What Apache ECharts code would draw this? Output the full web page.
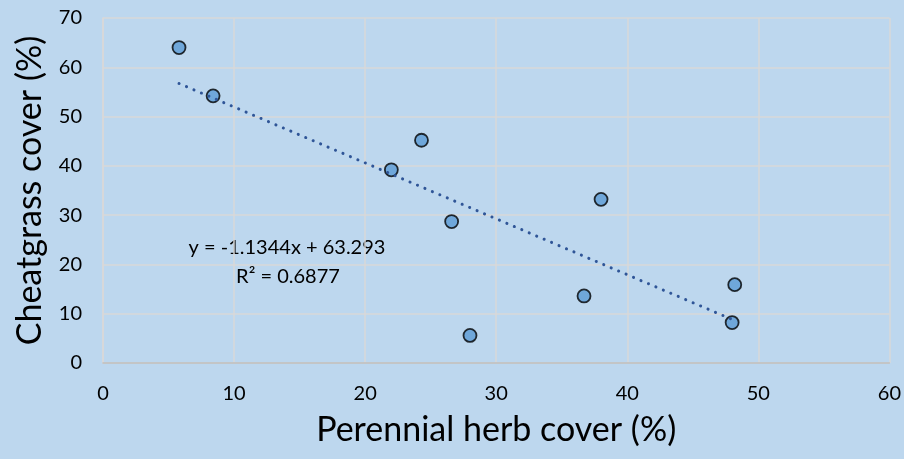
<!DOCTYPE html>
<html>
<head>
<meta charset="utf-8">
<script src="https://cdn.jsdelivr.net/npm/echarts@6/dist/echarts.min.js"></script>
<style>
  html, body { margin: 0; padding: 0; background: #BDD7EE; }
  #chart { width: 904px; height: 459px; }
</style>
</head>
<body>
<div id="chart"></div>
<script>
// Perennial herb cover (%) vs cheatgrass cover (%) per plot
const herbCover = [5.8, 8.4, 22.0, 24.3, 26.6, 38.0, 28.0, 36.7, 48.2, 48.0];
const cheatgrassCover = [64.0, 54.2, 39.2, 45.2, 28.7, 33.2, 5.6, 13.6, 15.9, 8.2];

// Linear fit reported on the chart
const slope = -1.1344;
const intercept = 63.293;
const rSquared = 0.6877;

const xTicks = [0, 10, 20, 30, 40, 50, 60];
const yTicks = [0, 10, 20, 30, 40, 50, 60, 70];

const points = herbCover.map((x, i) => [x, cheatgrassCover[i]]);
const xMin = Math.min(...herbCover);
const xMax = Math.max(...herbCover);
const fitLine = [[xMin, intercept + slope * xMin], [xMax, intercept + slope * xMax]];

const font = 'Lato, "Liberation Sans", sans-serif';
const chart = echarts.init(document.getElementById('chart'));

chart.setOption({
  backgroundColor: '#BDD7EE',
  animation: false,
  grid: { left: 103, right: 14, top: 18, bottom: 96 },
  xAxis: {
    type: 'value',
    min: xTicks[0], max: xTicks[xTicks.length - 1], interval: 10,
    name: 'Perennial herb cover (%)',
    nameLocation: 'middle', nameGap: 50,
    nameTextStyle: { fontFamily: font, fontSize: 34, color: '#000' },
    axisLine: { show: true, lineStyle: { color: '#BFBFBF', width: 1.5 } },
    axisTick: { show: false },
    axisLabel: { fontFamily: font, fontSize: 20, color: '#000', margin: 21 },
    splitLine: { show: true, lineStyle: { color: '#D9D9D9', width: 1.5 } }
  },
  yAxis: {
    type: 'value',
    min: yTicks[0], max: yTicks[yTicks.length - 1], interval: 10,
    name: 'Cheatgrass cover (%)',
    nameLocation: 'middle', nameGap: 56,
    nameTextStyle: { fontFamily: font, fontSize: 34, color: '#000' },
    axisLine: { show: true, lineStyle: { color: '#D9D9D9', width: 1.5 } },
    axisTick: { show: false },
    axisLabel: { fontFamily: font, fontSize: 20, color: '#000', margin: 21 },
    splitLine: { show: true, lineStyle: { color: '#D9D9D9', width: 1.5 } }
  },
  series: [
    {
      type: 'line',
      data: fitLine,
      symbol: 'none',
      z: 3,
      lineStyle: { color: '#2F5597', width: 3, type: [0.1, 8], cap: 'round' }
    },
    {
      type: 'scatter',
      data: points,
      symbol: 'circle',
      symbolSize: 13,
      z: 2,
      itemStyle: { color: '#5B9BD5', borderColor: '#000', borderWidth: 1.8 }
    }
  ],
  graphic: [
    {
      type: 'text', x: 287, y: 248,
      style: { text: 'y = -1.1344x + 63.293', fontFamily: font, fontSize: 20, fill: '#000',
               textAlign: 'center', textVerticalAlign: 'middle' }
    },
    {
      type: 'text', x: 288, y: 277,
      style: { text: 'R² = ' + rSquared, fontFamily: font, fontSize: 20, fill: '#000',
               textAlign: 'center', textVerticalAlign: 'middle' }
    }
  ]
});
</script>
</body>
</html>
